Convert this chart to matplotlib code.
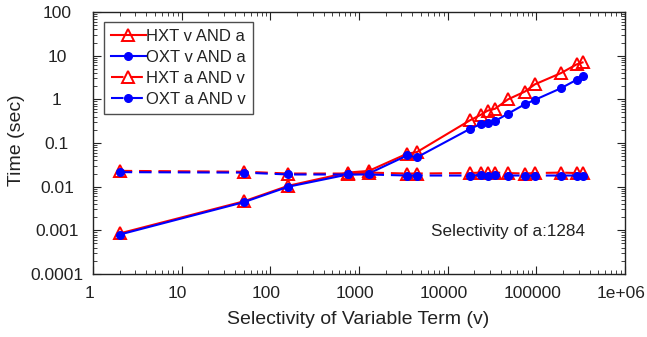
import matplotlib
matplotlib.use("Agg")
import matplotlib.pyplot as plt
import matplotlib.transforms as mtrans
from matplotlib.ticker import LogLocator, FixedLocator, FixedFormatter, NullFormatter

plt.rcParams['font.family'] = ['Liberation Sans', 'DejaVu Sans']

# Data
selectivity = [2, 50, 160, 750, 1290, 3500, 4500, 17800, 23500, 28200, 34300,
               48000, 74000, 96000, 190000, 284000, 332000]
hxt_v_and_a = [0.00085, 0.0046, 0.0105, 0.021, 0.023, 0.057, 0.062, 0.33, 0.44,
               0.55, 0.61, 1.0, 1.5, 2.2, 4.0, 6.3, 7.0]
oxt_v_and_a = [0.00080, 0.0044, 0.0100, 0.019, 0.020, 0.052, 0.047, 0.21, 0.27,
               0.28, 0.32, 0.47, 0.77, 0.97, 1.8, 2.8, 3.4]
hxt_a_and_v = [0.023, 0.022, 0.020, 0.020, 0.021, 0.020, 0.020, 0.0205, 0.021,
               0.0205, 0.021, 0.0205, 0.020, 0.0205, 0.021, 0.0205, 0.0205]
oxt_a_and_v = [0.0215, 0.021, 0.019, 0.019, 0.019, 0.018, 0.018, 0.018, 0.0185,
               0.018, 0.0185, 0.018, 0.018, 0.018, 0.018, 0.018, 0.0175]

x_ticks = [1, 10, 100, 1000, 10000, 100000, 1000000]
x_tick_labels = ["1", "10", "100", "1000", "10000", "100000", "1e+06"]
y_ticks = [0.0001, 0.001, 0.01, 0.1, 1, 10, 100]
y_tick_labels = ["0.0001", "0.001", "0.01", "0.1", "1", "10", "100"]

fig = plt.figure(figsize=(6.47, 3.37), dpi=100)
ax = fig.add_axes([93/647, 1-274/337, (625-93)/647, (274-12)/337])

red = '#ff0000'
blue = '#0000ff'
dash = (0, (6, 3.3))
lw = 1.5
ax.plot(selectivity, hxt_v_and_a, color=red, lw=lw, marker='^', ms=9,
        mfc='none', mec=red, mew=1.4, label='HXT v AND a')
ax.plot(selectivity, oxt_v_and_a, color=blue, lw=lw, marker='o', ms=5.5,
        mfc=blue, mec=blue, label='OXT v AND a')
ax.plot(selectivity, hxt_a_and_v, color=red, lw=lw, ls=dash, marker='^', ms=9,
        mfc='none', mec=red, mew=1.4, label='HXT a AND v')
ax.plot(selectivity, oxt_a_and_v, color=blue, lw=lw, ls=dash, marker='o', ms=5.5,
        mfc=blue, mec=blue, label='OXT a AND v')

ax.set_xscale('log')
ax.set_yscale('log')
ax.set_xlim(1, 1e6)
ax.set_ylim(1e-4, 100)
ax.xaxis.set_major_locator(FixedLocator(x_ticks))
ax.xaxis.set_major_formatter(FixedFormatter(x_tick_labels))
ax.yaxis.set_major_locator(FixedLocator(y_ticks))
ax.yaxis.set_major_formatter(FixedFormatter(y_tick_labels))
ax.xaxis.set_minor_locator(LogLocator(base=10, subs=range(2, 10), numticks=20))
ax.yaxis.set_minor_locator(LogLocator(base=10, subs=range(2, 10), numticks=20))
ax.xaxis.set_minor_formatter(NullFormatter())
ax.yaxis.set_minor_formatter(NullFormatter())
ax.tick_params(which='both', direction='in', top=True, right=True, labelsize=12.5,
               color='#222222', labelcolor='#222222')
ax.tick_params(which='major', length=6, width=0.8)
ax.tick_params(which='minor', length=3, width=0.6)
ax.tick_params(axis='x', pad=8.5)
ax.tick_params(axis='y', pad=26)
for lbl in ax.get_yticklabels():
    lbl.set_horizontalalignment('center')
shift = mtrans.ScaledTranslation(-4/100, 0, fig.dpi_scale_trans)
for lbl in ax.get_xticklabels():
    lbl.set_transform(lbl.get_transform() + shift)
for s in ax.spines.values():
    s.set_linewidth(1.0)
    s.set_color('#222222')

ax.set_xlabel('Selectivity of Variable Term (v)', fontsize=14, color='#222222')
ax.xaxis.set_label_coords(0.498, -0.14)
ax.set_ylabel('Time (sec)', fontsize=14, color='#222222')
ax.yaxis.set_label_coords(-0.128, 0.51)

ax.text(0.925, 0.145, 'Selectivity of a:1284', transform=ax.transAxes,
        ha='right', va='baseline', fontsize=12.3, color='#222222')

leg = ax.legend(loc='upper left', bbox_to_anchor=(0.02, 0.962), borderaxespad=0,
                fontsize=12, frameon=True, fancybox=False, handlelength=2.1,
                handletextpad=0.05, labelspacing=0.36, borderpad=0.42)
leg.get_frame().set_edgecolor('#222222')
leg.get_frame().set_linewidth(1.0)
for t in leg.get_texts():
    t.set_color('#222222')

fig.savefig('out.png', dpi=100)
